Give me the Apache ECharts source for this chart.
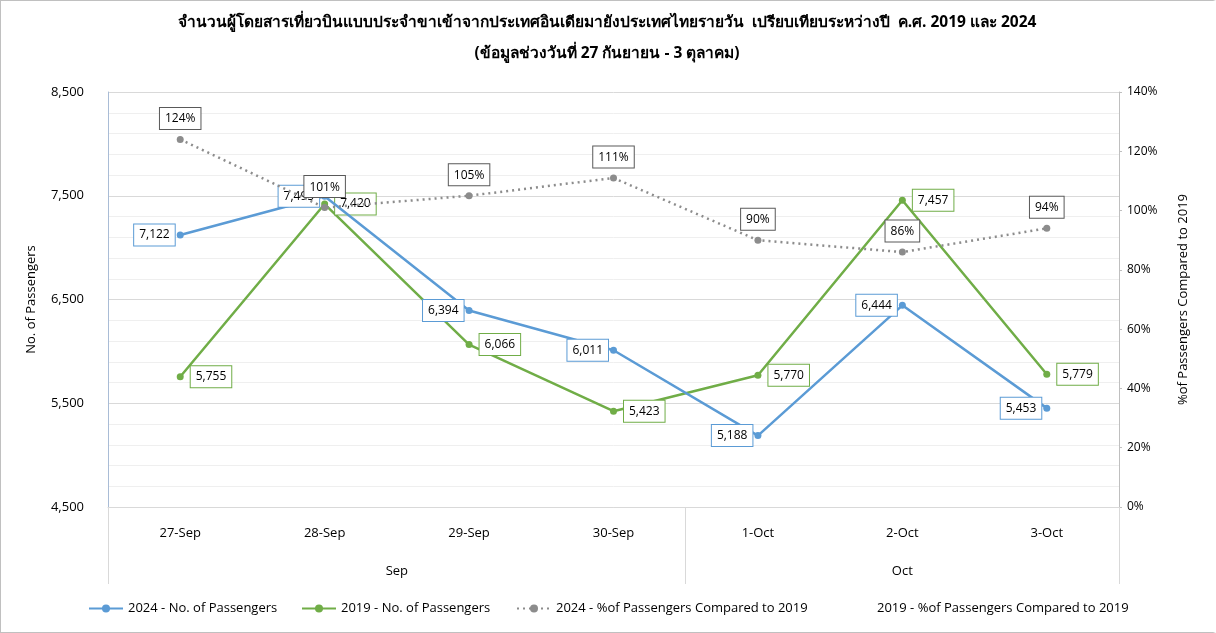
<!DOCTYPE html>
<html><head><meta charset="utf-8">
<script src="https://cdn.jsdelivr.net/npm/echarts@6/dist/echarts.min.js"></script>
<style>
html,body{margin:0;padding:0;background:#fff;}
#c{width:1216px;height:633px;box-sizing:border-box;border:1px solid #c0c0c0;border-right:3px solid #fff;}
</style></head>
<body><div id="c"></div>
<script>
const categories = ['27-Sep','28-Sep','29-Sep','30-Sep','1-Oct','2-Oct','3-Oct'];
const monthGroups = ['Sep','Oct'];
const pax2024 = [7122, 7495, 6394, 6011, 5188, 6444, 5453];
const pax2019 = [5755, 7420, 6066, 5423, 5770, 7457, 5779];
const pct2024 = [124, 101, 105, 111, 90, 86, 94];
const pct2019 = [];
const seriesNames = ['2024 - No. of Passengers','2019 - No. of Passengers','2024 - %of Passengers Compared to 2019','2019 - %of Passengers Compared to 2019'];
const titleText = 'จำนวนผู้โดยสารเที่ยวบินแบบประจำขาเข้าจากประเทศอินเดียมายังประเทศไทยรายวัน  เปรียบเทียบระหว่างปี  ค.ศ. 2019 และ 2024';
const subTitleText = '(ข้อมูลช่วงวันที่ 27 กันยายน - 3 ตุลาคม)';

const FONT = 'Open Sans, Noto Sans, sans-serif';
const chart = echarts.init(document.getElementById('c'));
const fmtNum = v => Number(v).toLocaleString('en-US');
const boxLabel = (pos, border, fmt, dist) => ({
  show: true, position: pos, distance: dist, formatter: p => fmt(p.value),
  backgroundColor: '#fff', borderColor: border, borderWidth: 1,
  padding: [5, 5, 4, 5], color: '#000', fontSize: 12, fontFamily: FONT
});
// grid line colors cycling every 100 units: major each 1000, minor each 200
const gl = ['#d9d9d9','rgba(0,0,0,0)','#efefef','rgba(0,0,0,0)','#efefef','rgba(0,0,0,0)','#efefef','rgba(0,0,0,0)','#efefef','rgba(0,0,0,0)'];
const titleStyle = {fontSize: 15.5, fontWeight: 'bold', color: '#000', fontFamily: FONT};
chart.setOption({
  animation: false,
  textStyle: {fontFamily: FONT},
  title: [
    {text: titleText, left: 'center', top: 14, textStyle: titleStyle, padding: 0},
    {text: subTitleText, left: 'center', top: 45, textStyle: titleStyle, padding: 0}
  ],
  grid: {left: 107, right: 94, top: 91, bottom: 125},
  legend: [
    {left: 82, top: 596, itemWidth: 34, itemHeight: 10, data: [seriesNames[0]], textStyle: {fontSize: 13, color: '#000'}},
    {left: 295, top: 596, itemWidth: 34, itemHeight: 10, data: [seriesNames[1]], textStyle: {fontSize: 13, color: '#000'}},
    {left: 510, top: 596, itemWidth: 34, itemHeight: 10, data: [seriesNames[2]], textStyle: {fontSize: 13, color: '#000'}},
    {left: 832, top: 596, itemWidth: 34, itemHeight: 10, data: [{name: seriesNames[3], icon: 'none'}], textStyle: {fontSize: 13, color: '#000'}}
  ],
  xAxis: [
    {type: 'category', data: categories, position: 'bottom',
     axisLine: {lineStyle: {color: '#d9d9d9'}}, axisTick: {show: false},
     axisLabel: {color: '#000', fontSize: 13, margin: 20}},
    {type: 'value', min: 0, max: categories.length, position: 'bottom', gridIndex: 0,
     axisLine: {show: false}, splitLine: {show: false},
     axisTick: {show: true, customValues: [0, 4, 7], length: 77, lineStyle: {color: '#d9d9d9'}},
     axisLabel: {show: true, customValues: [2, 5.5], margin: 58, color: '#000', fontSize: 13,
       formatter: v => (v === 2 ? monthGroups[0] : monthGroups[1])}}
  ],
  yAxis: [
    {type: 'value', min: 4500, max: 8500, interval: 100, position: 'left',
     name: 'No. of Passengers', nameLocation: 'middle', nameGap: 70, nameRotate: 90,
     nameTextStyle: {color: '#000', fontSize: 13},
     axisLine: {show: true, lineStyle: {color: '#a9bcd6'}}, axisTick: {show: false},
     axisLabel: {color: '#000', fontSize: 13, margin: 24,
       formatter: v => ((v - 4500) % 1000 === 0 ? fmtNum(v) : '')},
     splitLine: {show: true, lineStyle: {color: gl, width: 1}}},
    {type: 'value', min: 0, max: 140, interval: 20, position: 'right',
     name: '%of Passengers Compared to 2019', nameLocation: 'middle', nameGap: 58, nameRotate: 90,
     nameTextStyle: {color: '#000', fontSize: 13},
     axisLine: {show: true, lineStyle: {color: '#bfbfbf'}},
     axisTick: {show: true, length: 3, lineStyle: {color: '#bfbfbf'}},
     axisLabel: {color: '#000', fontSize: 12, margin: 8, formatter: '{value}%'},
     splitLine: {show: false}}
  ],
  series: [
    {name: seriesNames[0], type: 'line', data: pax2024, yAxisIndex: 0,
     color: '#5b9bd5', lineStyle: {width: 2.5}, symbol: 'circle', symbolSize: 7,
     label: boxLabel('left', '#5b9bd5', fmtNum, 2), z: 3},
    {name: seriesNames[1], type: 'line', data: pax2019, yAxisIndex: 0,
     color: '#70ad47', lineStyle: {width: 2.5}, symbol: 'circle', symbolSize: 7,
     label: boxLabel('right', '#70ad47', fmtNum, 7), z: 2},
    {name: seriesNames[2], type: 'line', data: pct2024, yAxisIndex: 1,
     color: '#8c8c8c', lineStyle: {width: 2.5, type: [2, 4]}, symbol: 'circle', symbolSize: 7,
     label: boxLabel('top', '#595959', v => Math.round(v) + '%', 7), z: 4},
    {name: seriesNames[3], type: 'line', data: pct2019, yAxisIndex: 1,
     color: '#ffffff', lineStyle: {width: 0}, symbol: 'none'}
  ]
});
</script></body></html>
